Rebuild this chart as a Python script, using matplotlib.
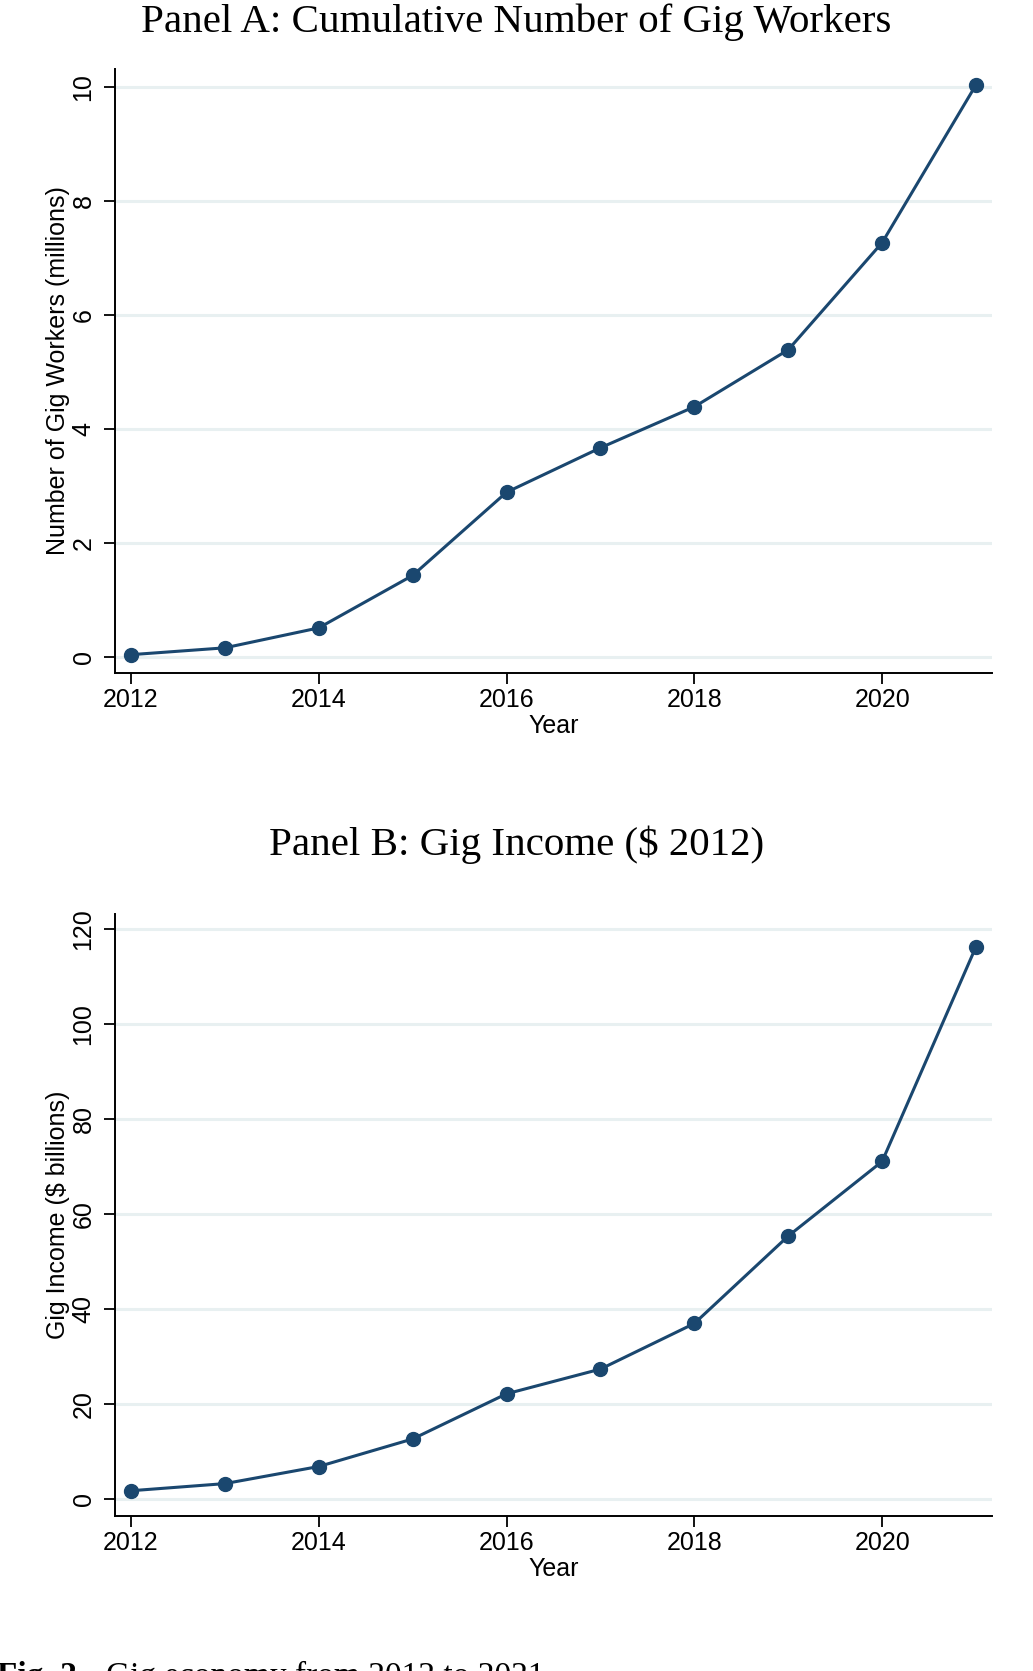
import matplotlib
matplotlib.use("Agg")
from matplotlib import pyplot as plt

# data
years = [2012, 2013, 2014, 2015, 2016, 2017, 2018, 2019, 2020, 2021]
workers = [0.04, 0.16, 0.51, 1.43, 2.89, 3.67, 4.39, 5.39, 7.27, 10.04]   # millions
income = [1.8, 3.3, 6.9, 12.7, 22.2, 27.4, 37.0, 55.4, 71.1, 116.3]        # $ billions (2012)

xticks = [2012, 2014, 2016, 2018, 2020]
yticks_a = [0, 2, 4, 6, 8, 10]
yticks_b = [0, 20, 40, 60, 80, 100, 120]

navy = "#1a476f"
gridc = "#e8f0f1"

plt.rcParams["font.family"] = ["Liberation Sans", "DejaVu Sans"]

fig = plt.figure(figsize=(10.33, 16.71), dpi=100)


def panel(rect, y, yticks, ylim, ylabel):
    ax = fig.add_axes(rect)
    ax.plot(years, y, color=navy, lw=2.2, marker="o", ms=10, mfc=navy, mec=navy, zorder=3)
    ax.set_xlim(2011.83, 2021.17)
    ax.set_ylim(ylim)
    ax.set_xticks(xticks)
    ax.set_yticks(yticks)
    ax.grid(axis="y", color=gridc, lw=2.2)
    ax.set_axisbelow(True)
    for s in ["top", "right"]:
        ax.spines[s].set_visible(False)
    for s in ["left", "bottom"]:
        ax.spines[s].set_linewidth(1.4)
    ax.tick_params(axis="both", length=8, width=1.3, labelsize=18)
    ax.tick_params(axis="y", pad=6)
    ax.tick_params(axis="x", pad=3)
    for lab in ax.get_yticklabels():
        lab.set_rotation(90)
        lab.set_va("center")
    ax.set_xlabel("Year", fontsize=18, labelpad=1)
    ax.set_ylabel(ylabel, fontsize=18, labelpad=1)
    return ax


panel([0.1113, 0.5973, 0.849, 0.3615], workers, yticks_a, (-0.28, 10.32),
      "Number of Gig Workers (millions)")
panel([0.1113, 0.0928, 0.849, 0.3603], income, yticks_b, (-3.5, 123.2),
      "Gig Income ($ billions)")

fig.text(0.5, 1 - 22 / 1671, "Panel A: Cumulative Number of Gig Workers",
         ha="center", va="center", fontsize=29.5, family="Liberation Serif")
fig.text(0.5, 1 - 845 / 1671, "Panel B: Gig Income ($ 2012)",
         ha="center", va="center", fontsize=29.5, family="Liberation Serif")

# caption, cut off at the bottom edge like in the source
fig.text(-3 / 1033, -14 / 1671, "Fig. 2.", ha="left", va="baseline",
         fontsize=24, fontweight="bold", family="Liberation Serif")
fig.text(106 / 1033, -14 / 1671, "Gig economy from 2012 to 2021", ha="left", va="baseline",
         fontsize=24, family="Liberation Serif")

fig.savefig("out.png", dpi=100)
